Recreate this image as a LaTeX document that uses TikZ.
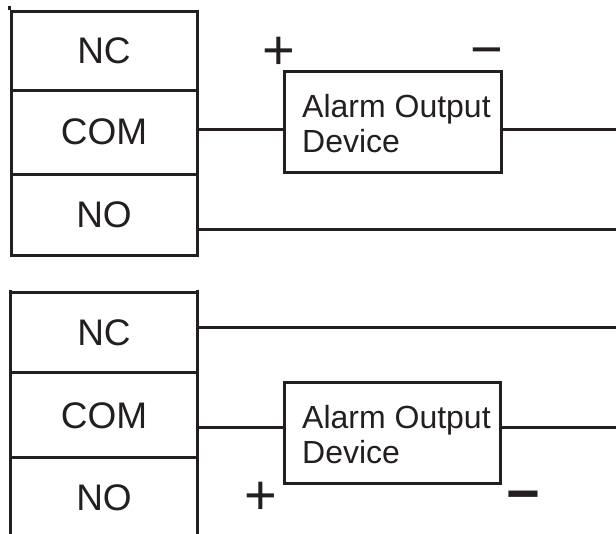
\documentclass[tikz,border=0pt]{standalone}
\usepackage{fontspec}
\setmainfont{Liberation Sans}
\definecolor{ink}{HTML}{231F20}
\begin{document}
\begin{tikzpicture}[x=1pt,y=-1pt,
  wire/.style={draw=ink, line width=3pt},
  cell/.style={draw=ink, line width=3pt, minimum width=186pt, inner sep=0pt, text=ink, font=\fontsize{37}{37}\selectfont},
  opencell/.style={minimum width=186pt, inner sep=0pt, text=ink, font=\fontsize{37}{37}\selectfont},
  devbox/.style={draw=ink, line width=3pt, minimum height=101pt, inner sep=0pt},
  devtext/.style={align=left, inner sep=0pt, text=ink, font=\fontsize{32}{35}\selectfont},
  pol/.style={inner sep=0pt, text=ink, font=\fontsize{56}{56}\selectfont}]
\useasboundingbox (0,0) rectangle (616,533);

% ---------- upper block ----------
\node[cell, minimum height=79pt] (nc1) at (104,50.5) {NC};
\node[cell, minimum height=84pt] (com1) at (104,132) {COM};
\node[cell, minimum height=81pt] (no1) at (104,214.5) {NO};
\draw[wire] (nc1.north west) -- ++(0,-4);

\node[devbox, minimum width=217pt] (dev1) at (392.5,121.5) {};
\node[devtext, anchor=west] (dev1t) at (302,124) {Alarm Output\\Device};

\coordinate (j1) at (284,129);
\coordinate (r1) at (616,129);
\coordinate (r2) at (616,229);
\draw[wire] (com1.east |- j1) -- (j1);
\draw[wire] (dev1.east |- r1) -- (r1);
\draw[wire] (no1.east |- r2) -- (r2);

\node[pol] (p1) at (278.5,53) {+};
\node[pol] (m1) at (486.5,58) {−};

% ---------- lower block ----------
\node[opencell, minimum height=80pt] (nc2) at (104,333) {NC};
\node[opencell, minimum height=85pt] (com2) at (104,415.5) {COM};
\node[opencell, minimum height=80pt] (no2) at (104,498) {NO};
\draw[wire] (nc2.north west) -- (nc2.north east);
\draw[wire] (com2.north west) -- (com2.north east);
\draw[wire] (no2.north west) -- (no2.north east);
\draw[wire] ([yshift=3pt]nc2.north west) -- (no2.south west);
\draw[wire] ([yshift=3pt]nc2.north east) -- (no2.south east);

\node[devbox, minimum width=216pt] (dev2) at (392,432.5) {};
\node[devtext, anchor=west] (dev2t) at (302,435) {Alarm Output\\Device};

\coordinate (r3) at (616,327);
\coordinate (j2) at (284,427);
\coordinate (r4) at (616,427);
\draw[wire] (nc2.east |- r3) -- (r3);
\draw[wire] (com2.east |- j2) -- (j2);
\draw[wire] (dev2.east |- r4) -- (r4);

\node[pol] (p2) at (260.5,498) {+};
\node[pol, font=\bfseries\fontsize{58}{58}\selectfont] (m2) at (523.5,502.5) {−};
\end{tikzpicture}
\end{document}
